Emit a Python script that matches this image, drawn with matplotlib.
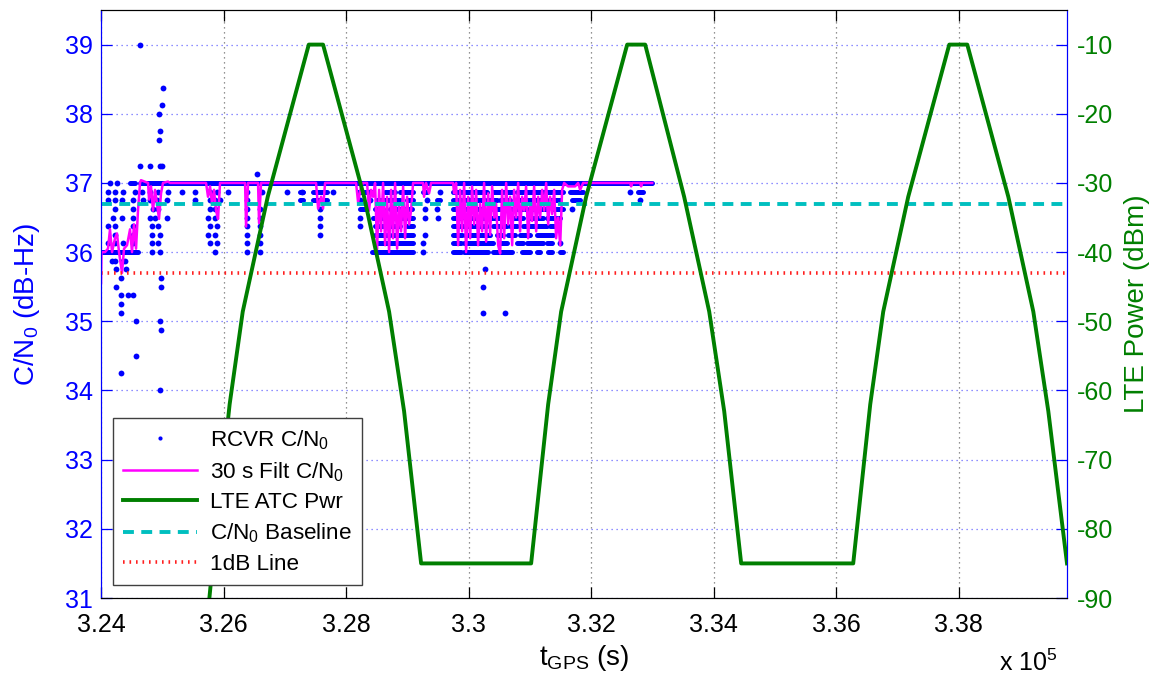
import matplotlib
matplotlib.use("Agg")
import matplotlib.pyplot as plt
from matplotlib.lines import Line2D
from matplotlib.ticker import FixedLocator, FuncFormatter

plt.rcParams["font.family"] = ["Liberation Sans", "DejaVu Sans"]
plt.rcParams["mathtext.default"] = "regular"
plt.rcParams["axes.unicode_minus"] = False

BLUE = "#0000ff"
GREEN = "#007f00"
MAGENTA = "#ff00ff"
CYAN = "#00bfbf"
RED = "#ff2020"

# ---- data (time in s, C/N0 in dB-Hz, power in dBm) ----
x_ticks = [324000, 326000, 328000, 330000, 332000, 334000, 336000, 338000]
cn0_ticks = [31, 32, 33, 34, 35, 36, 37, 38, 39]
pwr_ticks = [-90, -80, -70, -60, -50, -40, -30, -20, -10]

baseline_cn0 = 36.7
one_db_line = 35.7
t_range = [324000, 339770]

# single receiver samples
dot_t = [324637, 325012, 324996, 324947, 324963, 324947,
         324637, 324800, 324963, 324996, 326548, 324147, 324256,
         324120, 324229, 324365, 324556, 324664, 324800, 324937, 325100, 325317, 325535, 325780,
         325889, 326080, 326379, 326624, 327032, 327282, 327794, 328393, 329536, 332638,
         324120, 324229, 324338, 324528, 324692, 324800, 324909, 325073, 325535, 325780, 325862,
         325944, 326379, 328230, 328393, 329318, 332802,
         324229, 324528, 324855, 324937, 325780, 325862, 326379, 326597, 327577, 329291, 329481, 331686,
         324202, 324338, 324528, 324800, 324882, 325073, 325753, 325862, 326379, 326597, 327577,
         328230, 329291, 329509,
         324120, 324229, 324528, 324828, 324937, 325780, 325889, 326379, 326597, 327577, 328230,
         324229, 324528, 324828, 324964, 325753, 325862, 326379, 326597, 327577, 329291,
         324120, 324229, 324365, 324528, 324828, 324937, 325780, 325889, 326379, 326597, 329264, 331495,
         324828, 324964, 325862, 326379, 326597, 329264,
         324174, 324229, 324365, 324392, 324245, 324408, 330271, 324327, 324980,
         324245, 324980, 330238, 324327, 324441, 324523, 324327, 324327, 330238, 330597,
         324572, 324963, 324980, 324572, 324327, 324963]
dot_v = [39.0, 38.375, 38.125, 38.0, 37.75, 37.625,
         37.25, 37.25, 37.25, 37.25, 37.125, 37.0, 37.0,
         36.875, 36.875, 36.875, 36.875, 36.875, 36.875, 36.875, 36.875, 36.875, 36.875, 36.875,
         36.875, 36.875, 36.875, 36.875, 36.875, 36.875, 36.875, 36.875, 36.875, 36.875,
         36.75, 36.75, 36.75, 36.75, 36.75, 36.75, 36.75, 36.75, 36.75, 36.75, 36.75,
         36.75, 36.75, 36.75, 36.75, 36.75, 36.75,
         36.625, 36.625, 36.625, 36.625, 36.625, 36.625, 36.625, 36.625, 36.625, 36.625, 36.625, 36.625,
         36.5, 36.5, 36.5, 36.5, 36.5, 36.5, 36.5, 36.5, 36.5, 36.5, 36.5,
         36.5, 36.5, 36.5,
         36.375, 36.375, 36.375, 36.375, 36.375, 36.375, 36.375, 36.375, 36.375, 36.375, 36.375,
         36.25, 36.25, 36.25, 36.25, 36.25, 36.25, 36.25, 36.25, 36.25, 36.25,
         36.125, 36.125, 36.125, 36.125, 36.125, 36.125, 36.125, 36.125, 36.125, 36.125, 36.125, 36.125,
         36.0, 36.0, 36.0, 36.0, 36.0, 36.0,
         35.875, 35.875, 35.875, 35.875, 35.75, 35.75, 35.75, 35.625, 35.625,
         35.5, 35.5, 35.5, 35.375, 35.375, 35.375, 35.25, 35.125, 35.125, 35.125,
         35.0, 35.0, 34.875, 34.5, 34.25, 34.0]

# runs of consecutive receiver samples at one level
run_level = ([37.0, 37.0, 36.0]
             + [36.875] * 12 + [36.75] * 12 + [36.625] * 11 + [36.5] * 7
             + [36.375] * 8 + [36.25] * 8 + [36.125] * 7 + [36.0] * 8)
run_start = [324474, 324637, 324000,
             327250, 327468, 328203, 328638, 328883, 329264, 329754, 329950, 330407, 330788, 331659, 332774,
             327250, 327468, 328502, 328992, 329481, 329754, 329920, 330325, 330516, 330788, 331332, 331686,
             328230, 328475, 328720, 328964, 329754, 329900, 330407, 330570, 330788, 331005, 331386,
             328447, 329754, 329940, 330352, 330733, 331005, 331278,
             328475, 328992, 329754, 329910, 330407, 330679, 330897, 331332,
             328475, 328774, 329754, 329950, 330461, 330652, 330842, 331114,
             328502, 329754, 329930, 330516, 330788, 330951, 331278,
             328420, 329754, 329930, 330407, 330869, 331114, 331305, 331495]
run_end = [324556, 332998, 324610,
           327304, 327685, 328425, 328801, 329101, 329318, 329900, 330298, 330733, 331550, 331876, 332856,
           327304, 327685, 328883, 329101, 329536, 329870, 330271, 330461, 330679, 331278, 331495, 331822,
           328339, 328611, 328883, 329073, 329850, 330243, 330516, 330733, 330951, 331278, 331550,
           329101, 329880, 330298, 330516, 330897, 331223, 331495,
           328883, 329101, 329860, 330298, 330624, 330788, 331278, 331441,
           328720, 329101, 329890, 330352, 330570, 330760, 331005, 331386,
           329101, 329870, 330407, 330624, 330897, 331223, 331359,
           329101, 329880, 330325, 330706, 331005, 331169, 331359, 331550]

# 30 s filtered C/N0
filt_t = [324000, 324008, 324065, 324114, 324147, 324180, 324229, 324261, 324294, 324343,
          324376, 324425, 324474, 324506, 324539, 324572, 324604, 324637, 324653, 324768,
          324784, 324817, 324849, 324882, 324914, 324947, 324980, 325012, 325094, 325127,
          325715, 325747, 325780, 325813, 325845, 325878, 325911, 325943, 326352, 326368,
          326401, 326564, 326580, 326613, 327511, 327544, 327593, 327625, 327658, 328164,
          328197, 328246, 328278, 328344, 328376, 328409, 328442, 328474, 328507, 328540,
          328572, 328605, 328638, 328670, 328703, 328736, 328768, 328801, 328834, 328866,
          328899, 328932, 328964, 328997, 329030, 329062, 329095, 329258, 329274, 329307,
          329356, 329389, 329748, 329764, 329797, 329830, 329862, 329895, 329928, 329960,
          329993, 330026, 330058, 330091, 330124, 330156, 330189, 330222, 330254, 330287,
          330320, 330352, 330385, 330418, 330450, 330483, 330516, 330548, 330581, 330614,
          330646, 330679, 330712, 330744, 330777, 330810, 330842, 330875, 330908, 330940,
          330973, 331006, 331038, 331071, 331104, 331136, 331169, 331202, 331234, 331267,
          331300, 331332, 331365, 331398, 331430, 331463, 331496, 331528, 331561, 331626,
          331740, 331789, 331822, 331871, 332639, 332655, 332672, 332802, 332818, 332835, 332998]
filt_v = [35.55, 36.0, 36.0, 36.05, 36.33, 36.0, 36.2, 36.27, 36.0, 35.7,
          36.05, 36.1, 36.33, 36.0, 36.4, 36.05, 36.6, 37.0, 37.04, 37.0,
          36.76, 36.95, 36.6, 36.9, 36.7, 36.48, 36.85, 37.0, 37.02, 37.0,
          37.0, 36.8, 36.95, 36.7, 36.9, 36.6, 36.48, 37.0, 37.0, 36.37,
          37.0, 37.0, 36.42, 37.0, 37.0, 36.63, 36.8, 36.63, 37.0, 37.0,
          36.72, 36.95, 37.0, 37.0, 36.6, 36.9, 36.8, 37.0, 36.04, 36.9,
          36.3, 37.0, 36.1, 36.8, 36.0, 36.9, 36.2, 37.0, 36.05, 36.7,
          36.3, 36.95, 36.2, 36.8, 36.4, 36.6, 37.0, 37.0, 36.8, 37.0,
          36.85, 37.0, 37.0, 36.85, 37.0, 36.1, 36.9, 36.3, 37.0, 36.0,
          36.8, 36.2, 36.95, 36.4, 36.9, 36.1, 36.7, 36.3, 37.0, 36.15,
          36.85, 36.25, 36.95, 36.5, 36.7, 36.1, 35.98, 36.9, 36.2, 37.0,
          36.4, 36.8, 36.1, 36.9, 36.5, 37.0, 36.3, 36.8, 36.6, 36.95,
          36.2, 36.7, 36.45, 36.95, 36.3, 36.8, 36.5, 36.9, 36.6, 37.0,
          36.4, 36.8, 36.55, 36.9, 36.2, 36.5, 36.1, 36.9, 37.0, 36.95,
          36.95, 37.0, 36.9, 37.0, 37.0, 36.95, 37.0, 37.0, 36.95, 37.0, 37.0]

# LTE ATC transmit power
lte_t = [325715, 325824, 326100, 326314, 326722, 327392, 327625,
         328295, 328703, 328948, 329226,
         331022, 331300, 331512, 331920, 332590, 332884,
         333520, 333929, 334174, 334451,
         336280, 336558, 336770, 337178, 337848, 338142,
         338812, 339220, 339465, 339770]
lte_p = [-95, -85, -62, -48.6, -32, -10, -10,
         -32, -48.6, -63, -85,
         -85, -62, -48.6, -32, -10, -10,
         -32, -48.6, -63, -85,
         -85, -62, -48.6, -32, -10, -10,
         -32, -48.6, -63, -85]


def main():
    fig = plt.figure(figsize=(11.56, 6.81), dpi=100)
    ax = fig.add_axes([101 / 1156, 1 - 598 / 681, 966 / 1156, 588 / 681])
    ax2 = ax.twinx()

    # receiver samples: runs drawn as thick segments, isolated samples as dots
    for lv, t0, t1 in zip(run_level, run_start, run_end):
        ax.plot([t0, t1], [lv, lv], color=BLUE, lw=3.6, solid_capstyle="round", zorder=2)
    ax.plot(dot_t, dot_v, linestyle="none", marker="o", ms=4.2, mec="none", mfc=BLUE, zorder=2)
    h_dots = Line2D([], [], linestyle="none", marker="o", ms=3, mec="none", mfc=BLUE)

    h_filt, = ax.plot(filt_t, filt_v, color=MAGENTA, lw=1.8, zorder=3)
    h_base, = ax.plot(t_range, [baseline_cn0] * 2, color=CYAN, lw=2.8,
                      dashes=(2.8, 1.9), zorder=3)
    h_1db, = ax.plot(t_range, [one_db_line] * 2, color=RED, lw=2.6,
                     dashes=(0.45, 1.35), zorder=3)

    h_lte, = ax2.plot(lte_t, lte_p, color=GREEN, lw=2.8, zorder=3)

    ax.set_xlim(t_range)
    ax.set_ylim(31, 39.5)
    ax2.set_ylim(-90, -5)

    ax.xaxis.set_major_locator(FixedLocator(x_ticks))
    ax.xaxis.set_major_formatter(FuncFormatter(lambda v, p: f"{v / 1e5:g}"))
    ax.yaxis.set_major_locator(FixedLocator(cn0_ticks))
    ax2.yaxis.set_major_locator(FixedLocator(pwr_ticks))

    ax.set_axisbelow(True)
    ax.yaxis.grid(True, color="#6a6aff", linestyle=(0, (1, 3)), lw=0.9)
    ax.xaxis.grid(True, color="#707070", linestyle=(0, (1, 3)), lw=0.9)

    for a in (ax, ax2):
        a.spines["top"].set_color("black")
        a.spines["bottom"].set_color("black")
        a.spines["left"].set_color(BLUE)
        a.spines["right"].set_color(BLUE)
    ax.tick_params(axis="x", direction="in", length=8, width=0.9, colors="black",
                   labelsize=18, top=True, pad=11)
    ax.tick_params(axis="y", direction="in", length=8, width=0.9, colors=BLUE,
                   labelsize=18, pad=6)
    ax2.tick_params(axis="y", direction="in", length=8, width=0.9, color=BLUE,
                    labelcolor=GREEN, labelsize=18, pad=7)

    ax.set_xlabel("t$_{GPS}$ (s)", fontsize=20, labelpad=4)
    ax.set_ylabel("C/N$_0$ (dB-Hz)", fontsize=20, color=BLUE, labelpad=16)
    ax2.set_ylabel("LTE Power (dBm)", fontsize=20, color=GREEN, labelpad=8)
    ax.text(0.99, -0.11, "x 10$^5$", transform=ax.transAxes, ha="right", va="center",
            fontsize=18)

    leg = ax2.legend(
        [h_dots, h_filt, h_lte, h_base, h_1db],
        ["RCVR C/N$_0$", "30 s Filt C/N$_0$", "LTE ATC Pwr", "C/N$_0$ Baseline", "1dB Line"],
        loc="lower left", bbox_to_anchor=(0.0124, 0.022), borderaxespad=0,
        fontsize=16.2, fancybox=False, framealpha=1, edgecolor="#404040",
        handlelength=3.3, handletextpad=0.55, labelspacing=0.38, borderpad=0.45,
    )
    leg.get_frame().set_linewidth(1.0)
    leg.set_zorder(10)

    fig.savefig("out.png", dpi=100)


if __name__ == "__main__":
    main()
